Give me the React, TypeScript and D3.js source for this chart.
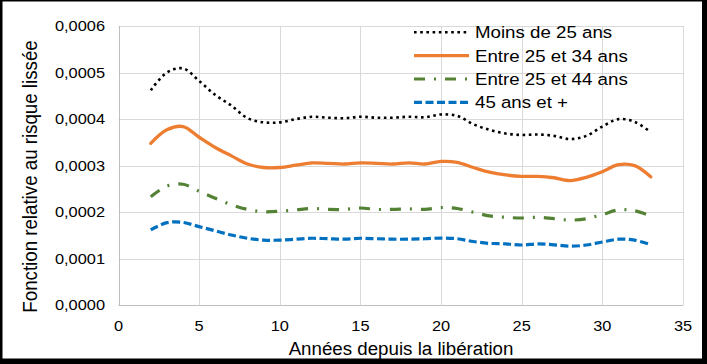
import * as d3 from 'd3';

// Années depuis la libération
const years = [2, 3, 4, 5, 6, 7, 8, 9, 10, 11, 12, 13, 14, 15, 16, 17, 18, 19, 20, 21, 22, 23, 24, 25, 26, 27, 28, 29, 30, 31, 32, 33];

// values, in units of 1e-4
const moins25 = [4.62, 5.0, 5.09, 4.82, 4.52, 4.29, 4.02, 3.93, 3.93, 4.0, 4.05, 4.03, 4.02, 4.05, 4.03, 4.03, 4.05, 4.04, 4.1, 4.07, 3.89, 3.77, 3.69, 3.66, 3.67, 3.64, 3.57, 3.64, 3.84, 4.0, 3.94, 3.72];
const entre25_34 = [3.48, 3.77, 3.84, 3.61, 3.39, 3.21, 3.035, 2.96, 2.96, 3.01, 3.06, 3.05, 3.035, 3.06, 3.05, 3.035, 3.06, 3.035, 3.09, 3.07, 2.96, 2.86, 2.8, 2.77, 2.77, 2.74, 2.68, 2.75, 2.87, 3.02, 3.0, 2.76];
const entre25_44 = [2.33, 2.56, 2.6, 2.45, 2.3, 2.16, 2.06, 2.01, 2.02, 2.05, 2.08, 2.06, 2.06, 2.09, 2.06, 2.06, 2.07, 2.06, 2.1, 2.08, 2.0, 1.92, 1.89, 1.875, 1.89, 1.86, 1.83, 1.86, 1.95, 2.05, 2.03, 1.92];
const plus45 = [1.62, 1.775, 1.78, 1.69, 1.6, 1.51, 1.44, 1.4, 1.4, 1.42, 1.44, 1.43, 1.42, 1.44, 1.43, 1.42, 1.42, 1.43, 1.445, 1.43, 1.37, 1.33, 1.32, 1.295, 1.32, 1.3, 1.27, 1.295, 1.36, 1.42, 1.4, 1.3];

const seriesNames = ['Moins de 25 ans', 'Entre 25 et 34 ans', 'Entre 25 et 44 ans', '45 ans et +'];
const xTicks = [0, 5, 10, 15, 20, 25, 30, 35];
const yTicks = [0, 0.0001, 0.0002, 0.0003, 0.0004, 0.0005, 0.0006];

const styles = [
  { color: '#000000', width: 2.6, dash: '2.6 3.6', cap: 'butt' },
  { color: '#ED7D31', width: 3.3, dash: null, cap: 'round' },
  { color: '#548235', width: 3.2, dash: '11 9 2 9', cap: 'butt' },
  { color: '#0070C0', width: 3.2, dash: '8 3.5', cap: 'butt' },
];

const W = 707;
const H = 364;
const FONT = 'Arial, "Liberation Sans", sans-serif';

const fr = d3.formatLocale({ decimal: ',', thousands: ' ', grouping: [3], currency: ['', ' €'] });
const fmtY = fr.format('.4f');

export default function App() {
  const x = d3.scaleLinear().domain([0, 35]).range([118.5, 683]);
  const y = d3.scaleLinear().domain([0, 0.0006]).range([305.3, 26]);

  const allSeries = [moins25, entre25_34, entre25_44, plus45];
  const line = d3.line<number>()
    .x((_, i) => x(years[i]))
    .y(d => y(d * 1e-4))
    .curve(d3.curveCatmullRom.alpha(0.5));

  const legendRows = [32.3, 55.7, 79, 102.3];

  return (
    <svg width={W} height={H} style={{ position: 'fixed', left: 0, top: 0, display: 'block' }}>
      {/* outer frame */}
      <rect x={0} y={0} width={W} height={H} fill="#000" />
      <rect x={2.5} y={1.5} width={699.5} height={357} fill="#fff" />

      {/* grid */}
      {yTicks.map(t => (
        <line key={'gy' + t} x1={x(0)} x2={x(35)} y1={Math.round(y(t)) + 0.5} y2={Math.round(y(t)) + 0.5}
          stroke={t === 0 ? '#bfbfbf' : '#d9d9d9'} strokeWidth={1} />
      ))}
      {xTicks.map(t => (
        <line key={'gx' + t} x1={Math.round(x(t)) + 0.5} x2={Math.round(x(t)) + 0.5} y1={y(0.0006)} y2={y(0)}
          stroke={t === 0 ? '#bfbfbf' : '#d9d9d9'} strokeWidth={1} />
      ))}

      {/* tick labels */}
      {yTicks.map(t => (
        <text key={'ty' + t} transform={`translate(105,${y(t) + 5}) scale(1.17,1)`} textAnchor="end"
          fontFamily={FONT} fontSize={14} fill="#000">{fmtY(t)}</text>
      ))}
      {xTicks.map(t => (
        <text key={'tx' + t} transform={`translate(${x(t)},330.5) scale(1.17,1)`} textAnchor="middle"
          fontFamily={FONT} fontSize={14} fill="#000">{t}</text>
      ))}

      {/* axis titles */}
      <text transform="translate(401,355) scale(1.04,1)" textAnchor="middle" fontFamily={FONT} fontSize={18} fill="#000">
        Années depuis la libération
      </text>
      <text transform="translate(36.5,176.5) rotate(-90) scale(1.04,1.17)" textAnchor="middle" fontFamily={FONT} fontSize={18} fill="#000">
        Fonction relative au risque lissée
      </text>

      {/* series */}
      {allSeries.map((s, i) => (
        <path key={'s' + i} d={line(s) || ''} fill="none" stroke={styles[i].color} strokeWidth={styles[i].width}
          strokeDasharray={styles[i].dash || undefined} strokeLinecap={styles[i].cap as any} strokeLinejoin="round" />
      ))}

      {/* legend */}
      {seriesNames.map((name, i) => (
        <g key={'lg' + i}>
          <line x1={414} x2={469} y1={legendRows[i]} y2={legendRows[i]} stroke={styles[i].color}
            strokeWidth={styles[i].width} strokeDasharray={styles[i].dash || undefined} />
          <text transform={`translate(475,${legendRows[i] + 6}) scale(1.1,1)`} fontFamily={FONT} fontSize={17} fill="#000">
            {name}
          </text>
        </g>
      ))}
    </svg>
  );
}
